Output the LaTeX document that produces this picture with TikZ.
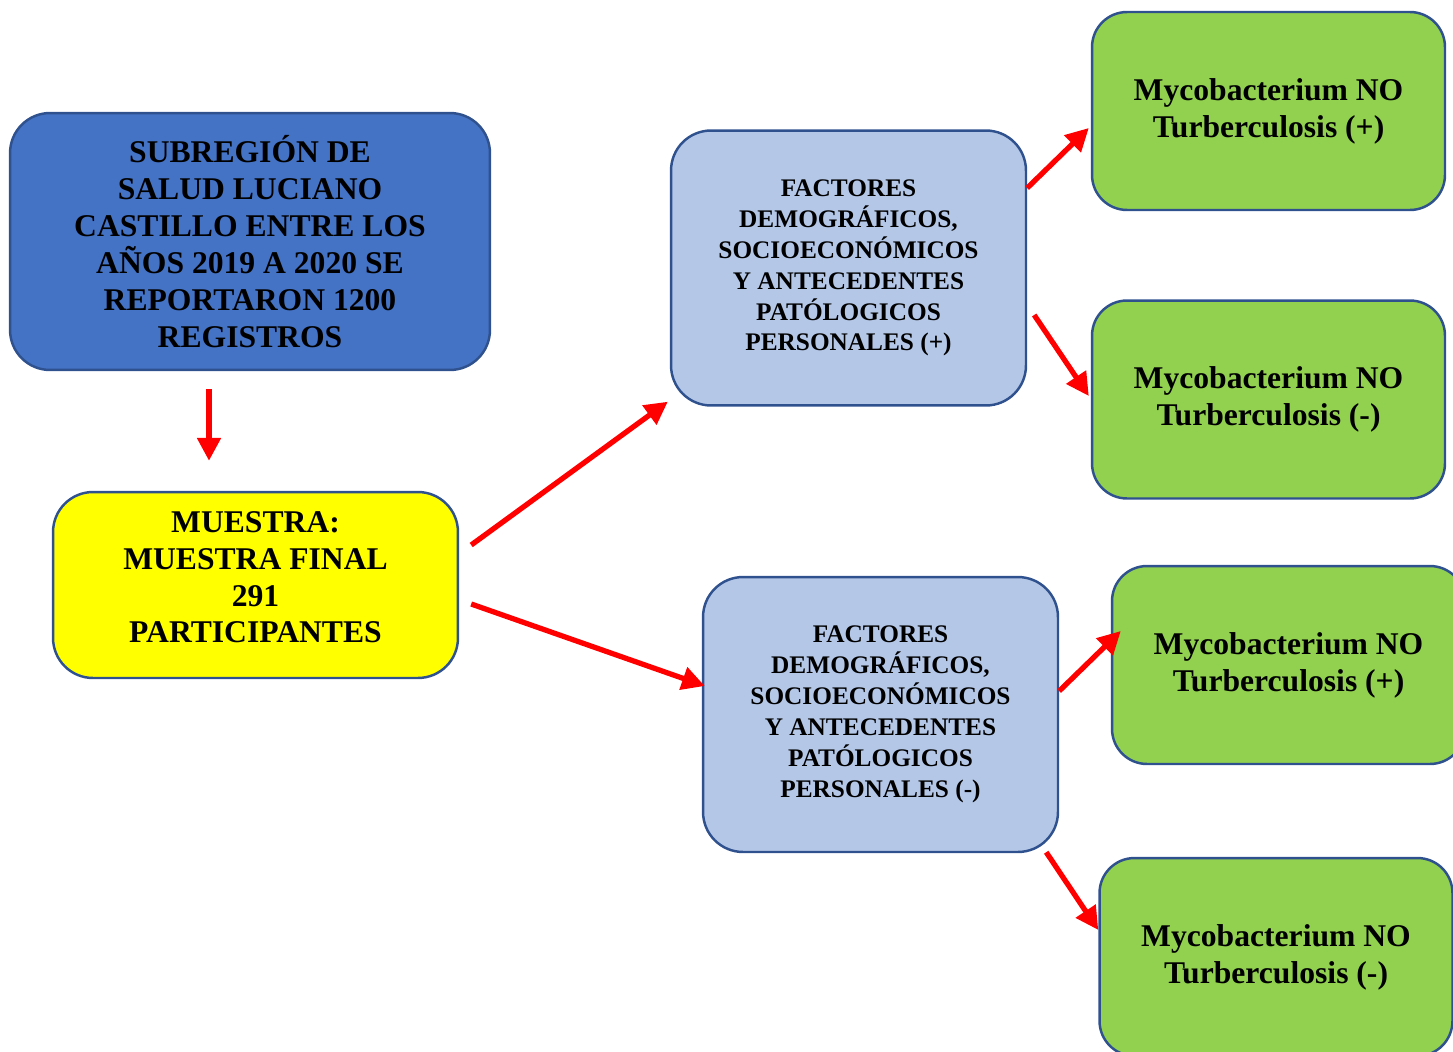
\documentclass[tikz,border=0pt]{standalone}
\usepackage{fontspec}
\setmainfont{Liberation Serif}
\usepackage{tikz}
\usetikzlibrary{arrows.meta}
\definecolor{boxline}{HTML}{2F528F}
\definecolor{regionblue}{HTML}{4472C4}
\definecolor{factorblue}{HTML}{B4C7E7}
\definecolor{resultgreen}{HTML}{92D050}
\definecolor{sampleyellow}{HTML}{FFFF00}
\begin{document}
\begin{tikzpicture}[x=0.02cm,y=-0.02cm]
			\tikzstyle{stage}=[draw=boxline,line width=1.4pt,rectangle,rounded corners=0.8cm,align=center,inner sep=0pt,font=\fontsize{18}{21}\selectfont\bfseries]
			\tikzstyle{factor}=[stage,fill=factorblue,minimum width=7.1cm,minimum height=5.5cm,font=\fontsize{14.4}{17.6}\selectfont\bfseries]
			\tikzstyle{result}=[stage,fill=resultgreen,rounded corners=0.7cm,minimum width=7.06cm,minimum height=3.96cm]
			\tikzstyle{flow}=[draw=red,line width=3pt,-{Triangle[length=13pt,width=13pt]}]
			
			\useasboundingbox (0,0) rectangle (1453,1051);
			
			\node[stage,fill=regionblue,minimum width=9.6cm,minimum height=5.14cm] (region) at (250,241.5) {SUBREGIÓN DE\\SALUD LUCIANO\\CASTILLO ENTRE LOS\\AÑOS 2019 A 2020 SE\\REPORTARON 1200\\REGISTROS};
			\node[stage,fill=sampleyellow,minimum width=8.1cm,minimum height=3.72cm] (muestra) at (255.5,585) {MUESTRA:\\MUESTRA FINAL\\291\\PARTICIPANTES\\[-12pt]};
			
			\node[factor] (facpos) at (848.5,268) {FACTORES\\DEMOGRÁFICOS,\\SOCIOECONÓMICOS\\Y ANTECEDENTES\\PATÓLOGICOS\\PERSONALES (+)};
			\node[factor] (facneg) at (880.5,714.5) {FACTORES\\DEMOGRÁFICOS,\\SOCIOECONÓMICOS\\Y ANTECEDENTES\\PATÓLOGICOS\\PERSONALES (-)};
			
			\node[result] (pospos) at (1268.5,111) {Mycobacterium NO\\Turberculosis (+)};
			\node[result] (posneg) at (1268.5,399.5) {Mycobacterium NO\\Turberculosis (-)};
			\node[result] (negpos) at (1288.5,665) {Mycobacterium NO\\Turberculosis (+)};
			\node[result] (negneg) at (1276,957) {Mycobacterium NO\\Turberculosis (-)};
			
			\draw[flow] ([shift={(-41,18)}]region.south) -- ([shift={(-46.5,-30)}]muestra.north);
			\draw[flow] ([shift={(12,-40)}]muestra.east) -- ([shift={(-2,-5)}]facpos.south west);
			\draw[flow] ([shift={(12,19)}]muestra.east) -- ([shift={(3,-28.5)}]facneg.west);
			
			\draw[flow] ([shift={(0,-80)}]facpos.east) -- ([shift={(-2,17)}]pospos.west);
			\draw[flow] ([shift={(7,47)}]facpos.east) -- ([shift={(-2,-3.5)}]posneg.west);
			\draw[flow] ([shift={(0,-23.5)}]facneg.east) -- ([shift={(10,-34)}]negpos.west);
			\draw[flow] ([shift={(-13,-1)}]facneg.south east) -- ([shift={(0,-27)}]negneg.west);
			
		\end{tikzpicture}
\end{document}
